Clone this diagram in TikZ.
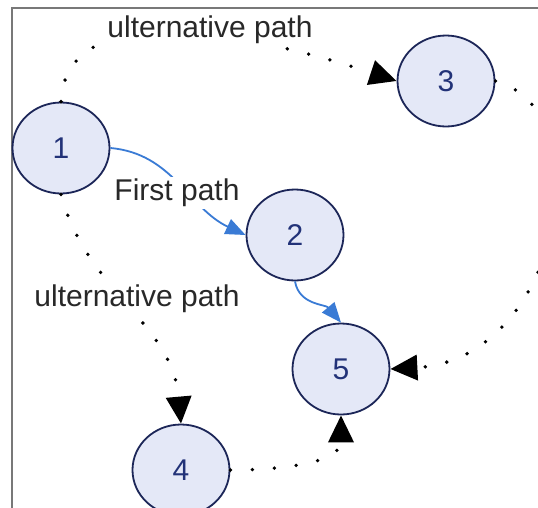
\documentclass[tikz,border=0pt]{standalone}
\usepackage{fontspec}
\setsansfont{Liberation Sans}
\usepackage{tikz}
\usetikzlibrary{arrows.meta, shapes.geometric}
\definecolor{nodefill}{RGB}{228,232,247}
\definecolor{nodeline}{RGB}{28,38,88}
\definecolor{numblue}{RGB}{34,50,120}
\definecolor{pathblue}{RGB}{58,123,213}
\definecolor{framegray}{RGB}{120,120,120}
\definecolor{labelgray}{RGB}{40,40,40}
\tikzset{
	station/.style={ellipse, draw=nodeline, line width=1.8pt, fill=nodefill, minimum width=97pt, minimum height=91pt, inner sep=0pt, text=numblue, font=\sffamily\fontsize{30}{32}\selectfont},
	pathlabel/.style={fill=white, inner sep=2pt, text=labelgray, font=\sffamily\fontsize{30}{32}\selectfont},
	altpath/.style={line width=3.8pt, line cap=round, dash pattern=on 0pt off 22pt, -{Triangle[length=27pt, width=25pt]}},
	firstpath/.style={pathblue, line width=1.8pt, -{Triangle[length=20pt, width=16pt]}}
}
\begin{document}
\begin{tikzpicture}[x=1pt, y=1pt]
		\useasboundingbox (0,0) rectangle (538,-507);
		\clip (0,0) rectangle (538,-507);
		\fill [white] (0,0) rectangle (538,-507);
		\draw [framegray, line width=2pt] (12,-520)--(12,-8)--(550,-8);
		\node [station] (n1) at (61,-148) {1};
		\node [station] (n2) at (295,-235) {2};
		\node [station] (n3) at (446,-81) {3};
		\node [station] (n5) at (341,-369) {5};
		\node [station] (n4) at (181,-470) {4};
		\draw [altpath] (n1.north) .. controls +(5,103) and +(-158,52) .. (n3.west);
		\draw [altpath] (n3.east) .. controls +(110,-30) and +(170,9) .. (n5.east);
		\draw [altpath] (n1.south) to[out=-75, in=95] (n4.north);
		\draw [altpath] (n4.east) to[out=0, in=-90] (n5.south);
		\draw [firstpath] (n1.east) to[out=-5, in=155] (n2.west);
		\draw [firstpath] (n2.south) to[out=-80, in=130] (n5.north);
		\node [pathlabel] (alttop) at (210,-30) {ulternative path};
		\node [pathlabel] (altbottom) at (137,-299) {ulternative path};
		\node [pathlabel] (first) at (177,-193) {First path};
	\end{tikzpicture}
\end{document}
